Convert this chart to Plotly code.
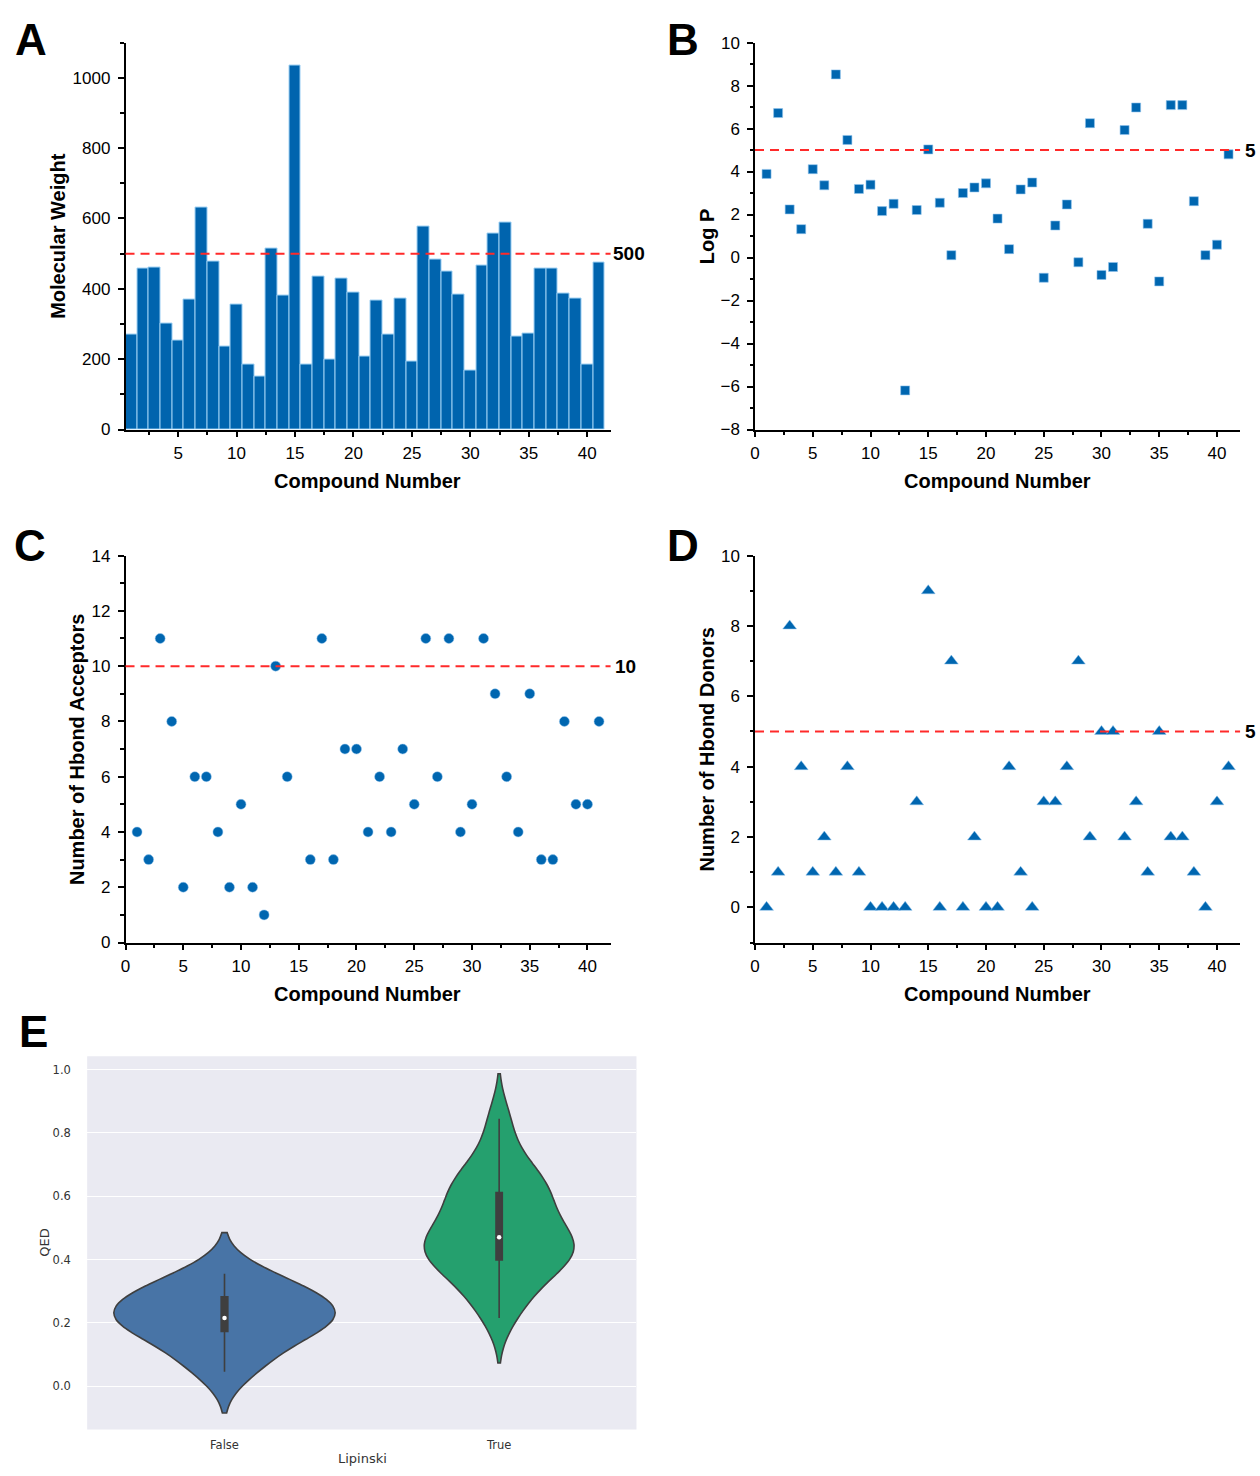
import numpy as np
import plotly.graph_objects as go

W, H = 1260, 1476

compounds = list(range(1, 42))

mol_weight = [270, 457, 459, 302, 252, 369, 632, 478, 235, 356,
              185, 151, 514, 381, 1036, 186, 435, 199, 429, 388,
              207, 366, 269, 373, 193, 576, 483, 449, 383, 167,
              467, 558, 588, 265, 272, 457, 457, 386, 373, 185, 476]

log_p = [3.89, 6.72, 2.24, 1.32, 4.11, 3.36, 8.52, 5.47, 3.19, 3.39,
         2.16, 2.50, -6.18, 2.21, 5.03, 2.55, 0.11, 3.00, 3.26, 3.45,
         1.81, 0.39, 3.17, 3.49, -0.94, 1.49, 2.47, -0.22, 6.25, -0.81,
         -0.44, 5.93, 6.98, 1.57, -1.11, 7.09, 7.09, 2.62, 0.11, 0.60, 4.80]

hb_acceptors = [4, 3, 11, 8, 2, 6, 6, 4, 2, 5,
                2, 1, 10, 6, None, 3, 11, 3, 7, 7,
                4, 6, 4, 7, 5, 11, 6, 11, 4, 5,
                11, 9, 6, 4, 9, 3, 3, 8, 5, 5, 8]

hb_donors = [0, 1, 8, 4, 1, 2, 1, 4, 1, 0,
             0, 0, 0, 3, 9, 0, 7, 0, 2, 0,
             0, 4, 1, 0, 3, 3, 4, 7, 2, 5,
             5, 2, 3, 1, 5, 2, 2, 1, 0, 3, 4]

thresholds = {"mw": 500, "logp": 5, "hba": 10, "hbd": 5}

lipinski_cats = ["False", "True"]
qed_false = [0.045, 0.075, 0.11, 0.15, 0.18, 0.19, 0.20, 0.21, 0.215,
             0.23, 0.245, 0.265, 0.28, 0.29, 0.31, 0.33, 0.355]
qed_true = [0.215, 0.28, 0.32, 0.35, 0.38, 0.405, 0.42, 0.43, 0.44, 0.45,
            0.47, 0.49, 0.52, 0.55, 0.58, 0.605, 0.63, 0.65, 0.68, 0.74, 0.845]

BLUE = "#0064AE"
RED = "#FF2A2A"
FONT = "Liberation Sans, Arial, sans-serif"


def px(x):
    return x / W


def py(y):
    return 1 - y / H


fig = go.Figure()

# A: bars
fig.add_trace(go.Bar(x=compounds, y=mol_weight, marker=dict(color=BLUE, line=dict(color="#9CCFF3", width=1)),
                     xaxis="x", yaxis="y", showlegend=False))
# B: squares
fig.add_trace(go.Scatter(x=compounds, y=log_p, mode="markers",
                         marker=dict(symbol="square", size=9, color="#0066B0", line=dict(color="#8FC3EC", width=0.6)),
                         xaxis="x2", yaxis="y2", showlegend=False))
# C: circles
fig.add_trace(go.Scatter(x=compounds, y=hb_acceptors, mode="markers",
                         marker=dict(symbol="circle", size=10, color="#0066B0", line=dict(color="#8FC3EC", width=0.5)),
                         xaxis="x3", yaxis="y3", showlegend=False))
# D: triangles
fig.add_trace(go.Scatter(x=compounds, y=hb_donors, mode="markers",
                         marker=dict(symbol="triangle-up", size=12, color="#0066B0", line=dict(color="#8FC3EC", width=0.5)),
                         xaxis="x4", yaxis="y4", showlegend=False))

# E: violins
for cat, data, fill, wdt, bw, bxw in [("False", qed_false, "#4874A6", 0.806, 0.065, 0.03),
                                       ("True", qed_true, "#25A06E", 0.545, 0.071, 0.042)]:
    fig.add_trace(go.Violin(x=[cat] * len(data), y=data, xaxis="x5", yaxis="y5",
                            width=wdt, bandwidth=bw, fillcolor=fill, opacity=1,
                            line=dict(color="#3F3F3F", width=1.6),
                            box=dict(visible=True, width=bxw, fillcolor="#3F3F3F",
                                     line=dict(color="#3F3F3F", width=1.6)),
                            points=False, scalemode="width", spanmode="soft",
                            showlegend=False, hoveron="violins"))
    fig.add_trace(go.Scatter(x=[cat], y=[float(np.median(data))], mode="markers",
                             marker=dict(color="white", size=4.5), xaxis="x5", yaxis="y5",
                             showlegend=False))


def ax(domain, anchor, rng, dtick, minor_dtick, standoff):
    return dict(domain=domain, anchor=anchor, range=rng, showline=True, linecolor="black", linewidth=1.5,
                ticks="outside", ticklen=6, tickwidth=1.5, tickcolor="black", showgrid=False,
                zeroline=False, dtick=dtick, tick0=0, ticklabelstandoff=standoff,
                tickfont=dict(family=FONT, size=17, color="black"),
                minor=dict(ticks="outside", ticklen=3.5, tickwidth=1.5, tickcolor="black", dtick=minor_dtick, tick0=0))


xA = [px(121), px(608)]
xB = [px(753), px(1240)]
yTop = [py(426), py(34)]
yBot = [py(945.7), py(553.7)]

layout = dict(
    width=W, height=H, margin=dict(l=0, r=0, t=0, b=0),
    paper_bgcolor="white", plot_bgcolor="white",
    bargap=0, violinmode="overlay",
    xaxis=ax(xA, "y", [0.5, 42], 5, 2.5, 1),
    yaxis=ax(yTop, "x", [0, 1100], 200, 100, 4),
    xaxis2=ax(xB, "y2", [0, 42], 5, 2.5, 1),
    yaxis2=ax(yTop, "x2", [-8, 10], 2, 1, 4),
    xaxis3=ax(xA, "y3", [0, 42], 5, 2.5, 1),
    yaxis3=ax(yBot, "x3", [0, 14], 2, 1, 4),
    xaxis4=ax(xB, "y4", [0, 42], 5, 2.5, 1),
    yaxis4=ax(yBot, "x4", [-1, 10], 2, 1, 4),
    xaxis5=dict(domain=[px(82.5), px(634)], anchor="y5", type="category", categoryarray=lipinski_cats,
                range=[-0.5, 1.5], showline=False, showgrid=False, zeroline=False,
                ticks="outside", ticklen=5, tickcolor="rgba(0,0,0,0)",
                tickfont=dict(family="DejaVu Sans", size=11.5, color="#333333")),
    yaxis5=dict(domain=[py(1439), py(1061)], anchor="x5", range=[-0.137, 1.042], dtick=0.2, tick0=0,
                tickformat=".1f", showline=False, showgrid=True, gridcolor="white", gridwidth=1.3,
                zeroline=False, ticks="outside", ticklen=13, tickcolor="rgba(0,0,0,0)",
                tickfont=dict(family="DejaVu Sans", size=11.5, color="#333333")),
)
fig.update_layout(**layout)

shapes = [dict(type="rect", xref="x5 domain", yref="y5 domain", x0=0, x1=1, y0=0, y1=1,
               fillcolor="#EAEAF2", line=dict(width=0), layer="below")]
for xr, yr, val in [("x", "y", thresholds["mw"]), ("x2", "y2", thresholds["logp"]),
                    ("x3", "y3", thresholds["hba"]), ("x4", "y4", thresholds["hbd"])]:
    shapes.append(dict(type="line", xref=f"{xr} domain", yref=yr, x0=0, x1=1, y0=val, y1=val,
                       line=dict(color=RED, width=2, dash="9px,6px"), layer="above"))
fig.update_layout(shapes=shapes)

ann = []
for xr, yr, val, shift in [("x", "y", thresholds["mw"], 2), ("x2", "y2", thresholds["logp"], 5),
                           ("x3", "y3", thresholds["hba"], 4), ("x4", "y4", thresholds["hbd"], 5)]:
    ann.append(dict(xref=f"{xr} domain", yref=yr, x=1, y=val, text=f"<b>{val}</b>", showarrow=False,
                    xanchor="left", yanchor="middle", xshift=shift, borderpad=0, borderwidth=0,
                    font=dict(family=FONT, size=19, color="black")))

for letter, x, y in [("A", 26, 31), ("B", 681, 31), ("C", 25, 543), ("D", 681, 543), ("E", 29, 1036)]:
    ann.append(dict(xref="paper", yref="paper", x=px(x), y=py(y), text=f"<b>{letter}</b>", showarrow=False,
                    xanchor="center", yanchor="middle", font=dict(family=FONT, size=44, color="black")))

for text, x, y, rot in [("Compound Number", 364, 478, 0), ("Compound Number", 996, 478, 0),
                        ("Compound Number", 364, 998, 0), ("Compound Number", 996, 998, 0),
                        ("Molecular Weight", 53, 230, -90), ("Log P", 705, 230, -90),
                        ("Number of Hbond Acceptors", 73, 750, -90), ("Number of Hbond Donors", 705, 750, -90)]:
    ann.append(dict(xref="paper", yref="paper", x=px(x), y=py(y), text=f"<b>{text}</b>", showarrow=False,
                    xanchor="center", yanchor="middle", textangle=rot,
                    font=dict(family=FONT, size=20, color="black")))

ann.append(dict(xref="paper", yref="paper", x=px(40), y=py(1250), text="QED", showarrow=False,
                xanchor="center", yanchor="middle", textangle=-90,
                font=dict(family="DejaVu Sans", size=13, color="#333333")))
ann.append(dict(xref="paper", yref="paper", x=px(359), y=py(1468), text="Lipinski", showarrow=False,
                xanchor="center", yanchor="middle",
                font=dict(family="DejaVu Sans", size=13, color="#333333")))
fig.update_layout(annotations=ann)

fig.write_html("out.html", config={"displayModeBar": False},
               post_script="document.body.style.margin='0';document.body.style.overflow='hidden';")
